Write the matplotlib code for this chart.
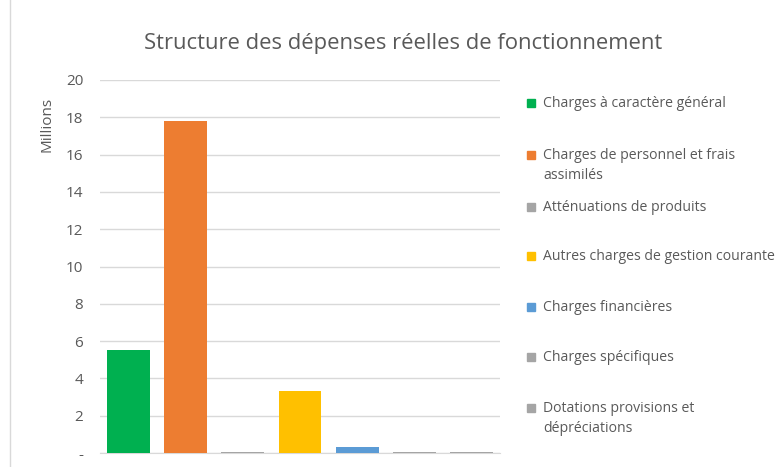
import matplotlib
matplotlib.use('Agg')
import matplotlib.pyplot as plt
from matplotlib.patches import Rectangle

plt.rcParams['font.family'] = ['Open Sans', 'DejaVu Sans']

categories = ["Charges à caractère général",
              "Charges de personnel et frais\nassimilés",
              "Atténuations de produits",
              "Autres charges de gestion courante",
              "Charges financières",
              "Charges spécifiques",
              "Dotations provisions et\ndépréciations"]
values = [5.52, 17.8, 0.03, 3.32, 0.34, 0.03, 0.03]  # millions
colors = ['#00B050', '#ED7D31', '#A5A5A5', '#FFC000', '#5B9BD5', '#A5A5A5', '#A5A5A5']
yticks = [0, 2, 4, 6, 8, 10, 12, 14, 16, 18, 20]
ytick_labels = ['-'] + [str(v) for v in yticks[1:]]

fig = plt.figure(figsize=(7.83, 4.67), dpi=100)
ax = fig.add_axes([100 / 783, 1 - 453 / 467, 400 / 783, 373 / 467])

x = range(len(values))
ax.bar(x, values, width=0.75, color=colors, zorder=3)
ax.set_xlim(-0.5, len(values) - 0.5)
ax.set_ylim(0, 20)
ax.set_yticks(yticks)
ax.set_yticklabels(ytick_labels, fontsize=11, color='#595959')
ax.set_xticks([])
ax.tick_params(axis='y', length=0, pad=12)
ax.grid(axis='y', color='#D9D9D9', linewidth=1, zorder=0)
for s in ['top', 'right', 'left']:
    ax.spines[s].set_visible(False)
ax.spines['bottom'].set_color('#D9D9D9')
ax.set_ylabel('Millions', fontsize=11, color='#595959')
ax.yaxis.set_label_coords(-0.115, 0.88)

fig.text(0.515, 1 - 44 / 467, 'Structure des dépenses réelles de fonctionnement',
         ha='center', va='center', fontsize=15.8, color='#595959')

# legend, first-line centre of each entry
leg_y = [103, 155, 207, 256, 307, 357, 408]
for lab, col, yy in zip(categories, colors, leg_y):
    fig.patches.append(Rectangle((527 / 783, 1 - (yy + 4) / 467), 8 / 783, 8 / 467,
                                 transform=fig.transFigure, color=col))
    fig.text(543 / 783, 1 - (yy - 7) / 467, lab, ha='left', va='top', fontsize=10.1,
             color='#595959', linespacing=1.45)

# chart border
fig.patches.append(Rectangle((10 / 783, -0.01), 1.1, 1.1, transform=fig.transFigure,
                             fill=False, edgecolor='#D9D9D9', linewidth=1))

fig.savefig('out.png', dpi=100)
